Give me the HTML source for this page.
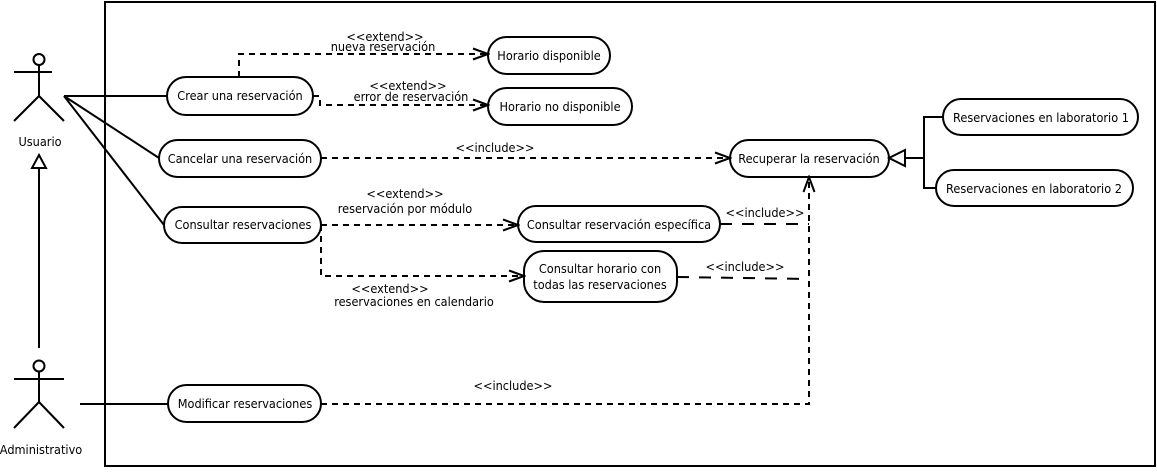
<!DOCTYPE html>
<html><head><meta charset="utf-8"><style>
html,body{margin:0;padding:0;background:#fff;}
svg text{font-family:"DejaVu Sans Condensed","Liberation Sans",sans-serif;font-size:12.6px;fill:#000;}
</style></head><body>
<svg width="1157" height="468" viewBox="0 0 1157 468" xmlns="http://www.w3.org/2000/svg">
<defs>
<marker id="oa" markerWidth="18" markerHeight="14" refX="16" refY="7" orient="auto" markerUnits="userSpaceOnUse">
<path d="M1,1.5 L16,7 L1,12.5" fill="none" stroke="#000" stroke-width="2"/></marker>
</defs>
<rect x="105" y="2" width="1050" height="464" fill="none" stroke="#000" stroke-width="2"/>
<g fill="none" stroke="#000" stroke-width="2">
<circle cx="39" cy="59.5" r="5.5"/>
<line x1="39" y1="65" x2="39" y2="96"/>
<line x1="14" y1="72" x2="52" y2="72"/>
<line x1="39" y1="96" x2="14" y2="121"/>
<line x1="39" y1="96" x2="64" y2="121"/>
<circle cx="39" cy="366" r="5.5"/>
<line x1="39" y1="371" x2="39" y2="402"/>
<line x1="14" y1="379" x2="64" y2="379"/>
<line x1="39" y1="402" x2="14" y2="428"/>
<line x1="39" y1="402" x2="64" y2="428"/>
<line x1="39" y1="168" x2="39" y2="348"/>
<polygon points="39,155 32,168 46,168" fill="#fff"/>
<line x1="64" y1="96" x2="167" y2="96"/>
<line x1="64" y1="96" x2="159" y2="158"/>
<line x1="64" y1="96" x2="164" y2="225"/>
<line x1="80" y1="404" x2="168" y2="404"/>
<rect x="167" y="77" width="146" height="38" rx="19"/>
<rect x="488" y="37" width="122" height="37" rx="18.5"/>
<rect x="488" y="88" width="144" height="37" rx="18.5"/>
<rect x="159" y="140" width="162" height="37" rx="18.5"/>
<rect x="164" y="207" width="157" height="36" rx="18"/>
<rect x="518" y="206" width="202" height="36" rx="18"/>
<rect x="524" y="251" width="153" height="51" rx="20"/>
<rect x="730" y="140" width="159" height="37" rx="18.5"/>
<rect x="943" y="99" width="195" height="36" rx="18"/>
<rect x="936" y="170" width="197" height="36" rx="18"/>
<rect x="168" y="385" width="153" height="37" rx="18.5"/>
<polyline points="943,117 924,117 924,188 936,188"/>
<line x1="905" y1="158" x2="924" y2="158"/>
<polygon points="889,158 905,150 905,166" fill="#fff"/>
</g>
<g fill="none" stroke="#000" stroke-width="2" stroke-dasharray="6,5">
<polyline points="239,77 239,54 488,54" marker-end="url(#oa)"/>
<polyline points="313,96 320,96 320,105 488,105" marker-end="url(#oa)"/>
<polyline points="321,158 730,158" marker-end="url(#oa)"/>
<polyline points="321,225 518,225" marker-end="url(#oa)"/>
<polyline points="321,225 321,276 524,276" marker-end="url(#oa)"/>
<polyline points="321,404 809,404 809,177" marker-end="url(#oa)"/>
</g>
<g fill="none" stroke="#000" stroke-width="2" stroke-dasharray="12,10">
<polyline points="720,224 809,224"/>
<polyline points="677,277 809,279"/>
</g>
<g text-anchor="middle">
<text x="385" y="41">&lt;&lt;extend&gt;&gt;</text>
<text x="383" y="51">nueva reservación</text>
<text x="408" y="90">&lt;&lt;extend&gt;&gt;</text>
<text x="411" y="101">error de reservación</text>
<text x="495" y="152">&lt;&lt;include&gt;&gt;</text>
<text x="405" y="198">&lt;&lt;extend&gt;&gt;</text>
<text x="405" y="213">reservación por módulo</text>
<text x="390" y="293">&lt;&lt;extend&gt;&gt;</text>
<text x="414" y="306">reservaciones en calendario</text>
<text x="765" y="217">&lt;&lt;include&gt;&gt;</text>
<text x="745" y="271">&lt;&lt;include&gt;&gt;</text>
<text x="513" y="390">&lt;&lt;include&gt;&gt;</text>
<text x="240" y="100">Crear una reservación</text>
<text x="549" y="60">Horario disponible</text>
<text x="560" y="111">Horario no disponible</text>
<text x="240" y="163">Cancelar una reservación</text>
<text x="243" y="229">Consultar reservaciones</text>
<text x="619" y="229">Consultar reservación específica</text>
<text x="600" y="273">Consultar horario con</text>
<text x="600" y="289">todas las reservaciones</text>
<text x="809" y="163">Recuperar la reservación</text>
<text x="1041" y="122">Reservaciones en laboratorio 1</text>
<text x="1034" y="193">Reservaciones en laboratorio 2</text>
<text x="245" y="408">Modificar reservaciones</text>
<text x="40" y="146">Usuario</text>
<text x="41" y="454">Administrativo</text>
</g>
</svg>
</body></html>
